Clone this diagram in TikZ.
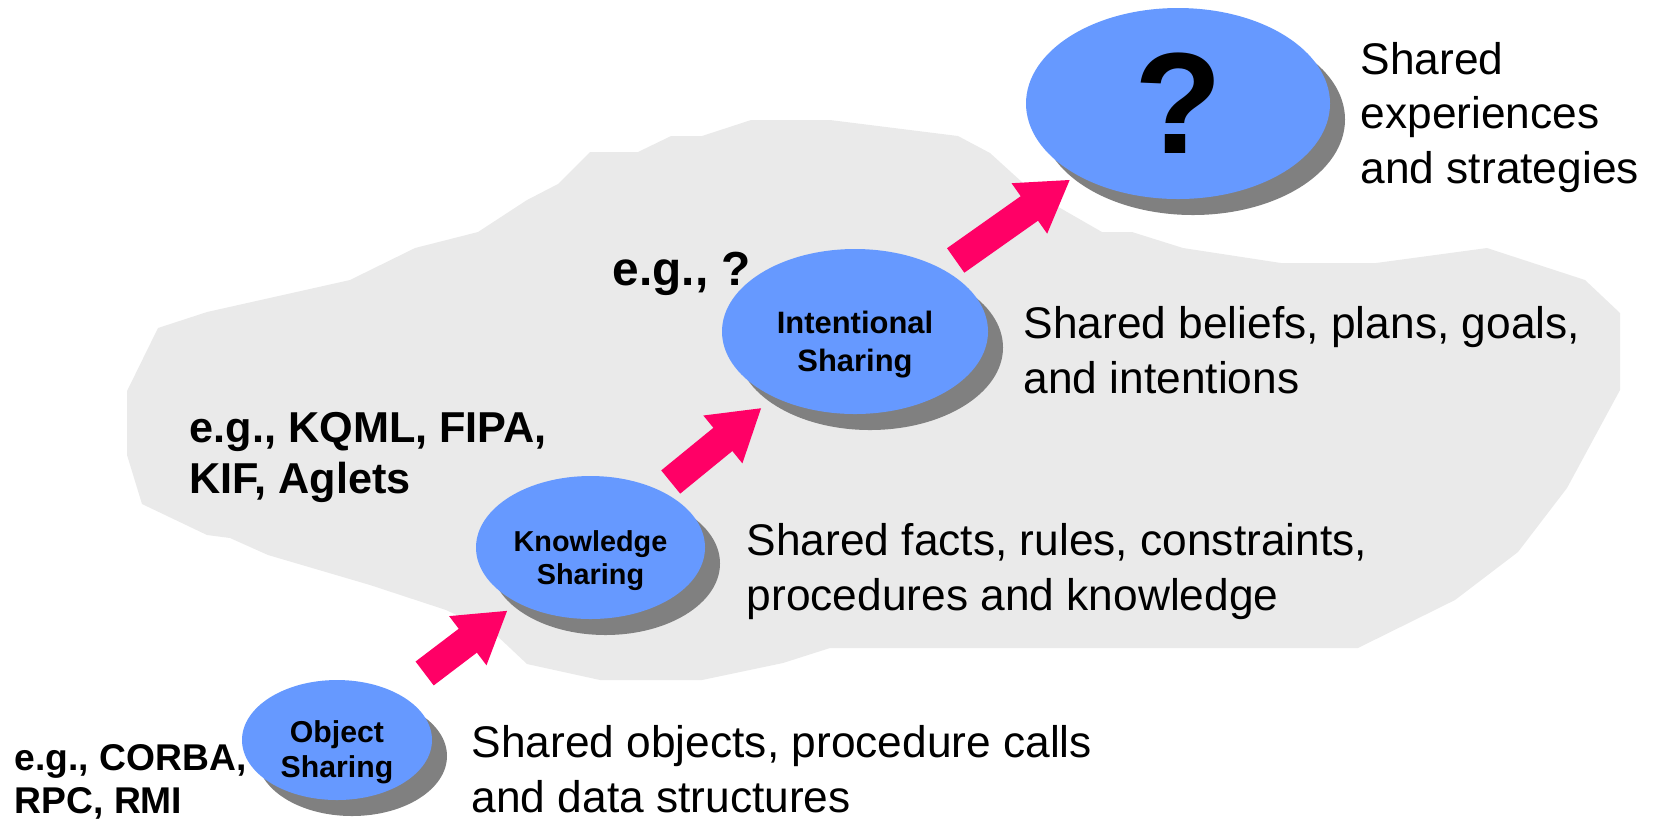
\documentclass[tikz,border=0pt]{standalone}
\usepackage{fontspec}
\setmainfont{Liberation Sans}
\usepackage{xcolor}
\definecolor{StageBlue}{RGB}{102,153,255}
\definecolor{StageShadow}{RGB}{128,128,128}
\definecolor{StepPink}{RGB}{255,0,102}
\definecolor{CloudGray}{RGB}{234,234,234}
\usepackage{tikz}
\usetikzlibrary{shapes, arrows.meta, positioning, shadows}

\begin{document}
\begin{tikzpicture}[
        x=0.1mm, y=-0.1mm,
        stage/.style={ellipse, fill=StageBlue, inner sep=0pt, align=center, text=black, text depth=0pt, drop shadow={shadow xshift=1.5mm, shadow yshift=-1.6mm, fill=StageShadow, opacity=1}},
        note/.style={anchor=base west, align=left, inner sep=0pt, font=\fontsize{12.6}{15.5}\selectfont},
        example/.style={anchor=base west, align=left, inner sep=0pt},
        stepup/.style={line width=3mm, draw=StepPink, -{Triangle[length=5mm, width=5.8mm]}}
    ]
        \useasboundingbox (0,0) rectangle (1653,821);

        % --- BACKGROUND ---
        \fill[CloudGray] (415,248) -- (478,232) -- (527,200) -- (558,184) -- (590,152) -- (638,152)
            -- (671,136) -- (702,136) -- (751,120) -- (830,120) -- (958,136) -- (990,153) -- (1034,193)
            -- (1102,232) -- (1132,232) -- (1183,248) -- (1281,263) -- (1376,263) -- (1487,248)
            -- (1585,280) -- (1620,313) -- (1620,390) -- (1567,488) -- (1518,552) -- (1455,600)
            -- (1358,648) -- (830,648) -- (783,663) -- (702,680) -- (600,680) -- (527,664) -- (493,632)
            -- (446,610) -- (370,585) -- (268,555) -- (230,538) -- (207,535) -- (142,504) -- (127,455)
            -- (127,391) -- (158,328) -- (207,312) -- (350,280) -- cycle;

        % --- STAGES ---
        \node[stage, minimum width=19mm, minimum height=12mm, text height=21.5pt, font=\bfseries\fontsize{8.6}{10}\selectfont] (obj) at (337,740) {Object\\Sharing};
        \node[stage, minimum width=22.9mm, minimum height=14.3mm, text height=21.1pt, font=\bfseries\fontsize{8.2}{9.5}\selectfont] (know) at (590.5,547.5) {Knowledge\\Sharing};
        \node[stage, minimum width=26.6mm, minimum height=16.5mm, text height=22.8pt, font=\bfseries\fontsize{8.8}{10.8}\selectfont] (intent) at (855,331.5) {Intentional\\Sharing};
        \node[stage, minimum width=30.4mm, minimum height=19.1mm, font=\bfseries\fontsize{41}{44}\selectfont] (next) at (1178,103.5) {?};

        % --- DESCRIPTIONS ---
        \node[note] (objtxt) at (471,812) {Shared objects, procedure calls\\and data structures};
        \node[note] (knowtxt) at (746,610) {Shared facts, rules, constraints,\\procedures and knowledge};
        \node[note] (intenttxt) at (1023,393) {Shared beliefs, plans, goals,\\and intentions};
        \node[note] (nexttxt) at (1360,183) {Shared\\experiences\\and strategies};

        % --- EXAMPLES ---
        \node[example, font=\bfseries\fontsize{10.6}{12.2}\selectfont] (objeg) at (14,813) {e.g., CORBA,\\RPC, RMI};
        \node[example, font=\bfseries\fontsize{12.3}{14.6}\selectfont] (knoweg) at (189,493.3) {e.g., KQML, FIPA,\\KIF, Aglets};
        \node[example, font=\bfseries\fontsize{13.6}{16}\selectfont] (intenteg) at (612,285) {e.g., ?};

        % --- CONNECTIONS ---
        \draw[stepup, shorten <=3.3mm, shorten >=1.2mm] (obj) -- (know);
        \draw[stepup, shorten <=1.3mm, shorten >=1.6mm] (know) -- (intent);
        \draw[stepup, shorten <=1.5mm, shorten >=0.75mm] (intent) -- (next);
    \end{tikzpicture}
\end{document}
